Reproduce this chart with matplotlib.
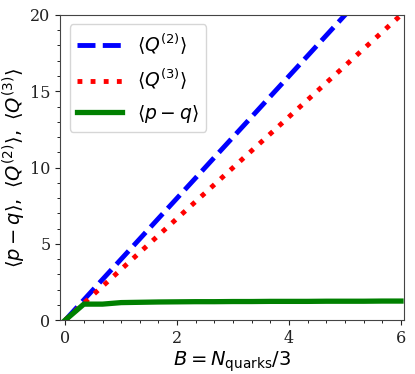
import numpy as np
import matplotlib
matplotlib.use("Agg")
import matplotlib.pyplot as plt
from matplotlib.ticker import MultipleLocator

# baryon number B = N_quarks / 3
B = [0.0, 0.333, 0.667, 1.0, 1.333, 1.667, 2.0, 2.333, 2.667, 3.0,
     3.333, 3.667, 4.0, 4.333, 4.667, 5.0, 5.333, 5.667, 6.0]
Q2 = [0.0, 1.33, 2.67, 4.0, 5.33, 6.67, 8.0, 9.33, 10.67, 12.0,
      13.33, 14.67, 16.0, 17.33, 18.67, 20.0, 21.33, 22.67, 24.0]
Q3 = [0.0, 1.11, 2.22, 3.33, 4.44, 5.56, 6.67, 7.78, 8.89, 10.0,
      11.11, 12.22, 13.33, 14.44, 15.56, 16.67, 17.78, 18.89, 20.0]
PQ = [0.0, 1.05, 1.05, 1.15, 1.17, 1.19, 1.2, 1.21, 1.21, 1.22,
      1.22, 1.23, 1.23, 1.23, 1.24, 1.24, 1.24, 1.25, 1.25]

plt.rcParams["font.family"] = "DejaVu Serif"
plt.rcParams["mathtext.fontset"] = "dejavusans"

fig = plt.figure(figsize=(4.15, 3.74), dpi=100)
ax = fig.add_axes([0.145, 0.144, 0.828, 0.816])

ax.plot(B, Q2, color="blue", ls=(0, (3.7, 1.5)), lw=3.5, label=r"$\langle Q^{(2)}\rangle$")
ax.plot(B, Q3, color="red", ls=(0, (1, 1.7)), lw=3.5, label=r"$\langle Q^{(3)}\rangle$")
ax.plot(B, PQ, color="green", lw=3.8, label=r"$\langle p-q\rangle$")

ax.set_xlim(-0.09, 6.05)
ax.set_ylim(0, 20)
ax.xaxis.set_major_locator(MultipleLocator(2))
ax.xaxis.set_minor_locator(MultipleLocator(1 / 3))
ax.yaxis.set_major_locator(MultipleLocator(5))
ax.yaxis.set_minor_locator(MultipleLocator(1))
ax.tick_params(labelsize=11.5, colors="#222222")
for s in ax.spines.values():
    s.set_color("#444444")

ax.set_xlabel(r"$B = N_{\rm quarks}/3$", fontsize=14, labelpad=2)
ax.set_ylabel(r"$\langle p-q\rangle,\ \langle Q^{(2)}\rangle,\ \langle Q^{(3)}\rangle$", fontsize=14)
ax.yaxis.set_label_coords(-0.095, 0.5)
ax.legend(loc="upper left", fontsize=13.5, handlelength=2.4, labelspacing=0.55)

fig.savefig("out.png", dpi=100)
